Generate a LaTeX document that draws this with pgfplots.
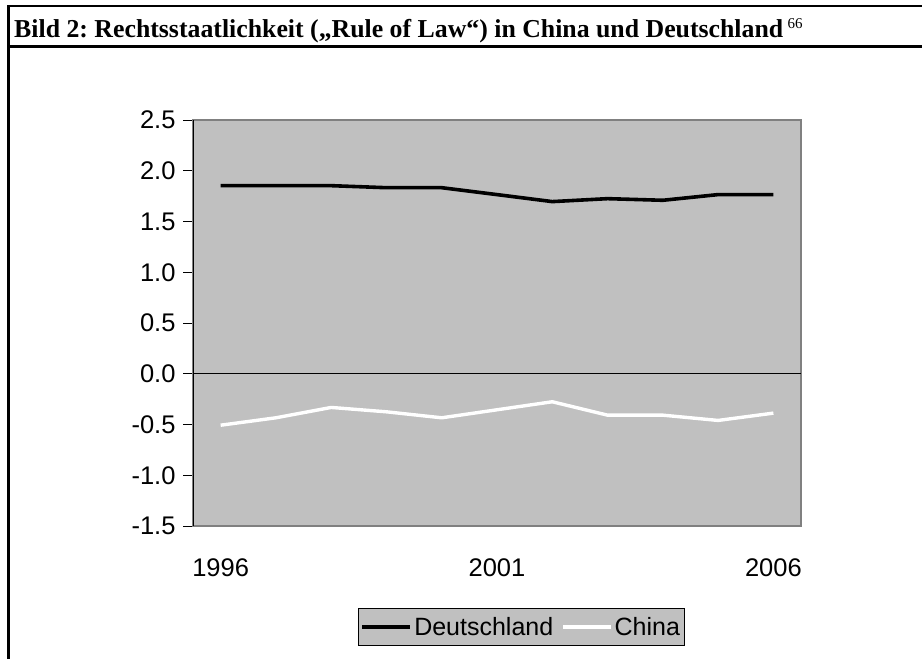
\documentclass[border=0pt]{standalone}
\usepackage{pgfplots}
\pgfplotsset{compat=1.18}
\usepackage{fontspec}
\setmainfont{Liberation Sans}
\newfontfamily\timesfont{Liberation Serif}
\definecolor{plotgray}{HTML}{C0C0C0}
\definecolor{framegray}{HTML}{808080}
\frenchspacing
\begin{document}
\begin{tikzpicture}[x=1pt,y=1pt]
\useasboundingbox (0,0) rectangle (922,659);
\draw[line width=2.6pt] (8.7,0) -- (8.7,653) -- (922,653);
\draw[line width=2.4pt] (8.7,612.5) -- (922,612.5);
\node[anchor=base west, inner sep=0, font=\timesfont\fontsize{25.8}{30}\selectfont\bfseries] at (14,621) {Bild 2: Rechtsstaatlichkeit („Rule of Law“) in China und Deutschland\,\raisebox{9pt}{\fontsize{15}{17}\selectfont\mdseries 66}};
\begin{axis}[
  at={(193pt,133pt)}, anchor=south west, scale only axis,
  width=608pt, height=406pt,
  xmin=-0.5, xmax=10.5, ymin=-1.5, ymax=2.5,
  axis background/.style={fill=plotgray},
  axis line style={draw=framegray, line width=1.3pt},
  xtick={0,5,10}, xticklabels={1996,2001,2006},
  xtick style={draw=none},
  ytick={-1.5,-1,-0.5,0,0.5,1,1.5,2,2.5},
  yticklabels={{-1.5},{-1.0},{-0.5},{0.0},{0.5},{1.0},{1.5},{2.0},{2.5}},
  ytick pos=left,
  ytick style={draw=black, line width=0.8pt},
  tick align=outside, major tick length=10pt,
  ticklabel style={font=\fontsize{25.5}{30}\selectfont},
  xticklabel style={yshift=-19pt},
  yticklabel style={xshift=-4pt},
  legend columns=2,
  legend style={at={(0.540,-0.249)}, anchor=center, fill=plotgray, draw=black, line width=0.8pt,
    font=\fontsize{25}{29}\selectfont, inner xsep=2pt, inner ysep=7pt,
    /tikz/every even column/.append style={column sep=6pt}},
  legend image code/.code={\draw[#1] (0pt,0pt) -- (48pt,0pt);},
]
\draw[black, line width=0.8pt] (axis cs:-0.5,0) -- (axis cs:10.5,0);
\addplot[black, line width=3.6pt, line join=round] coordinates {
(0,1.853) (1,1.853) (2,1.853) (3,1.833) (4,1.833) (5,1.765) (6,1.696) (7,1.725) (8,1.709) (9,1.765) (10,1.765)};
\addlegendentry{Deutschland}
\addplot[white, line width=3.4pt, line join=round] coordinates {
(0,-0.507) (1,-0.434) (2,-0.332) (3,-0.375) (4,-0.434) (5,-0.355) (6,-0.276) (7,-0.408) (8,-0.408) (9,-0.46) (10,-0.388)};
\addlegendentry{China}
\draw[black, line width=1.3pt] (rel axis cs:0,0) -- (rel axis cs:0,1);
\end{axis}
\end{tikzpicture}
\end{document}
